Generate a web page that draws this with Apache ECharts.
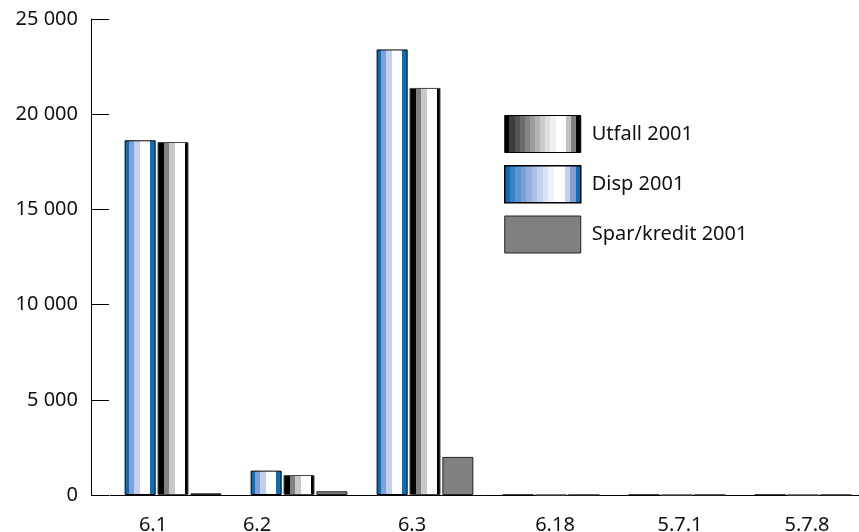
<!DOCTYPE html>
<html>
<head>
<meta charset="utf-8">
<script src="https://cdn.jsdelivr.net/npm/echarts@6/dist/echarts.min.js"></script>
<style>html,body{margin:0;padding:0;background:#fff;}#c{width:859px;height:532px;}</style>
</head>
<body>
<div id="c"></div>
<script>
// ---- data ----
const categories = ['6.1', '6.2', '6.3', '6.18', '5.7.1', '5.7.8'];
const dispValues = [18630, 1280, 23400, 0, 0, 0];
const utfallValues = [18540, 1050, 21380, 0, 0, 0];
const sparValues = [90, 195, 2000, 0, 0, 0];
const seriesNames = ['Disp 2001', 'Utfall 2001', 'Spar/kredit 2001'];
const legendOrder = ['Utfall 2001', 'Disp 2001', 'Spar/kredit 2001'];
const yTicks = [0, 5000, 10000, 15000, 20000, 25000];

// ---- styles ----
function bands(list) {
  const stops = [];
  list.forEach(([a, b, c]) => { stops.push({offset: a, color: c}); stops.push({offset: b, color: c}); });
  return {type: 'linear', x: 0, y: 0, x2: 1, y2: 0, colorStops: stops};
}
const dispBar = bands([[0, 0.15, '#0a6fb8'], [0.15, 0.31, '#80a0d6'], [0.31, 0.5, '#c3cfeb'], [0.5, 0.83, '#ffffff'], [0.83, 1, '#0a6fb8']]);
const utfallBar = bands([[0, 0.2, '#000000'], [0.2, 0.37, '#808080'], [0.37, 0.56, '#c8c8c8'], [0.56, 0.88, '#ffffff'], [0.88, 1, '#000000']]);
const greyList = ['#000000', '#3c3c3c', '#545454', '#6c6c6c', '#848484', '#9c9c9c', '#b4b4b4', '#cbcbcb', '#dedede', '#efefef', '#ffffff', '#ffffff', '#c0c0c0', '#808080', '#000000'];
const blueList = ['#0a6fb8', '#3882c6', '#5a93cf', '#78a2d7', '#95b2df', '#aec1e6', '#c5d2ee', '#dae3f4', '#edf1f9', '#ffffff', '#ffffff', '#c3cfeb', '#80a0d6', '#0a6fb8'];
function evenBands(cols) {
  const n = cols.length;
  return bands(cols.map((c, i) => [i / n, (i + 1) / n, c]));
}
const utfallLegend = evenBands(greyList);
const dispLegend = evenBands(blueList);
const sparColor = '#808080';

const labelPad = [[0, 40, 0, 0], [0, 84, 0, 0], [0, 26, 0, 0], [0, 0, 0, 8], [0, 0, 0, 6], [0, 0, 0, 8]];
const FONT = 'Noto Sans';

const chart = echarts.init(document.getElementById('c'), null, {renderer: 'canvas'});
chart.setOption({
  animation: false,
  backgroundColor: '#ffffff',
  textStyle: {fontFamily: FONT},
  grid: {left: 110, top: 19, width: 756, bottom: 37, containLabel: false, outerBoundsMode: 'none'},
  legend: {
    orient: 'vertical', left: 504, top: 115, padding: 0,
    itemWidth: 76, itemHeight: 37, itemGap: 12,
    icon: 'rect',
    textStyle: {fontFamily: FONT, fontSize: 20, color: '#111', padding: [0, 0, 0, 6]},
    data: [
      {name: legendOrder[0], itemStyle: {color: utfallLegend, borderColor: '#000', borderWidth: 1}},
      {name: legendOrder[1], itemStyle: {color: dispLegend, borderColor: '#000', borderWidth: 1.5}},
      {name: legendOrder[2], itemStyle: {color: sparColor, borderColor: '#222', borderWidth: 1}}
    ]
  },
  xAxis: {
    type: 'category',
    data: categories.map((c, i) => ({value: c, textStyle: {padding: labelPad[i]}})),
    axisLine: {lineStyle: {color: '#000', width: 1}},
    axisTick: {inside: true, length: 11, lineStyle: {color: '#333'}, interval: (i) => i !== 0},
    axisLabel: {fontFamily: FONT, fontSize: 20, color: '#111', margin: 20}
  },
  yAxis: {
    type: 'value', min: yTicks[0], max: yTicks[yTicks.length - 1], interval: yTicks[1] - yTicks[0],
    offset: 19,
    splitLine: {show: false},
    axisLine: {show: true, lineStyle: {color: '#000', width: 1}},
    axisTick: {show: true, inside: true, length: 18, lineStyle: {color: '#000'}},
    axisLabel: {fontFamily: FONT, fontSize: 20, color: '#111', margin: 13,
      formatter: (v) => String(v).replace(/\B(?=(\d{3})+(?!\d))/g, ' ')}
  },
  series: [
    {name: seriesNames[0], type: 'bar', data: dispValues, barWidth: 31, barGap: '6%',
      itemStyle: {color: dispBar, borderColor: '#000', borderWidth: 1}},
    {name: seriesNames[1], type: 'bar', data: utfallValues, barWidth: 31, barGap: '6%',
      itemStyle: {color: utfallBar, borderColor: '#444', borderWidth: 1}},
    {name: seriesNames[2], type: 'bar', data: sparValues, barWidth: 31, barGap: '6%',
      itemStyle: {color: sparColor, borderColor: '#222', borderWidth: 1}}
  ]
});
</script>
</body>
</html>
